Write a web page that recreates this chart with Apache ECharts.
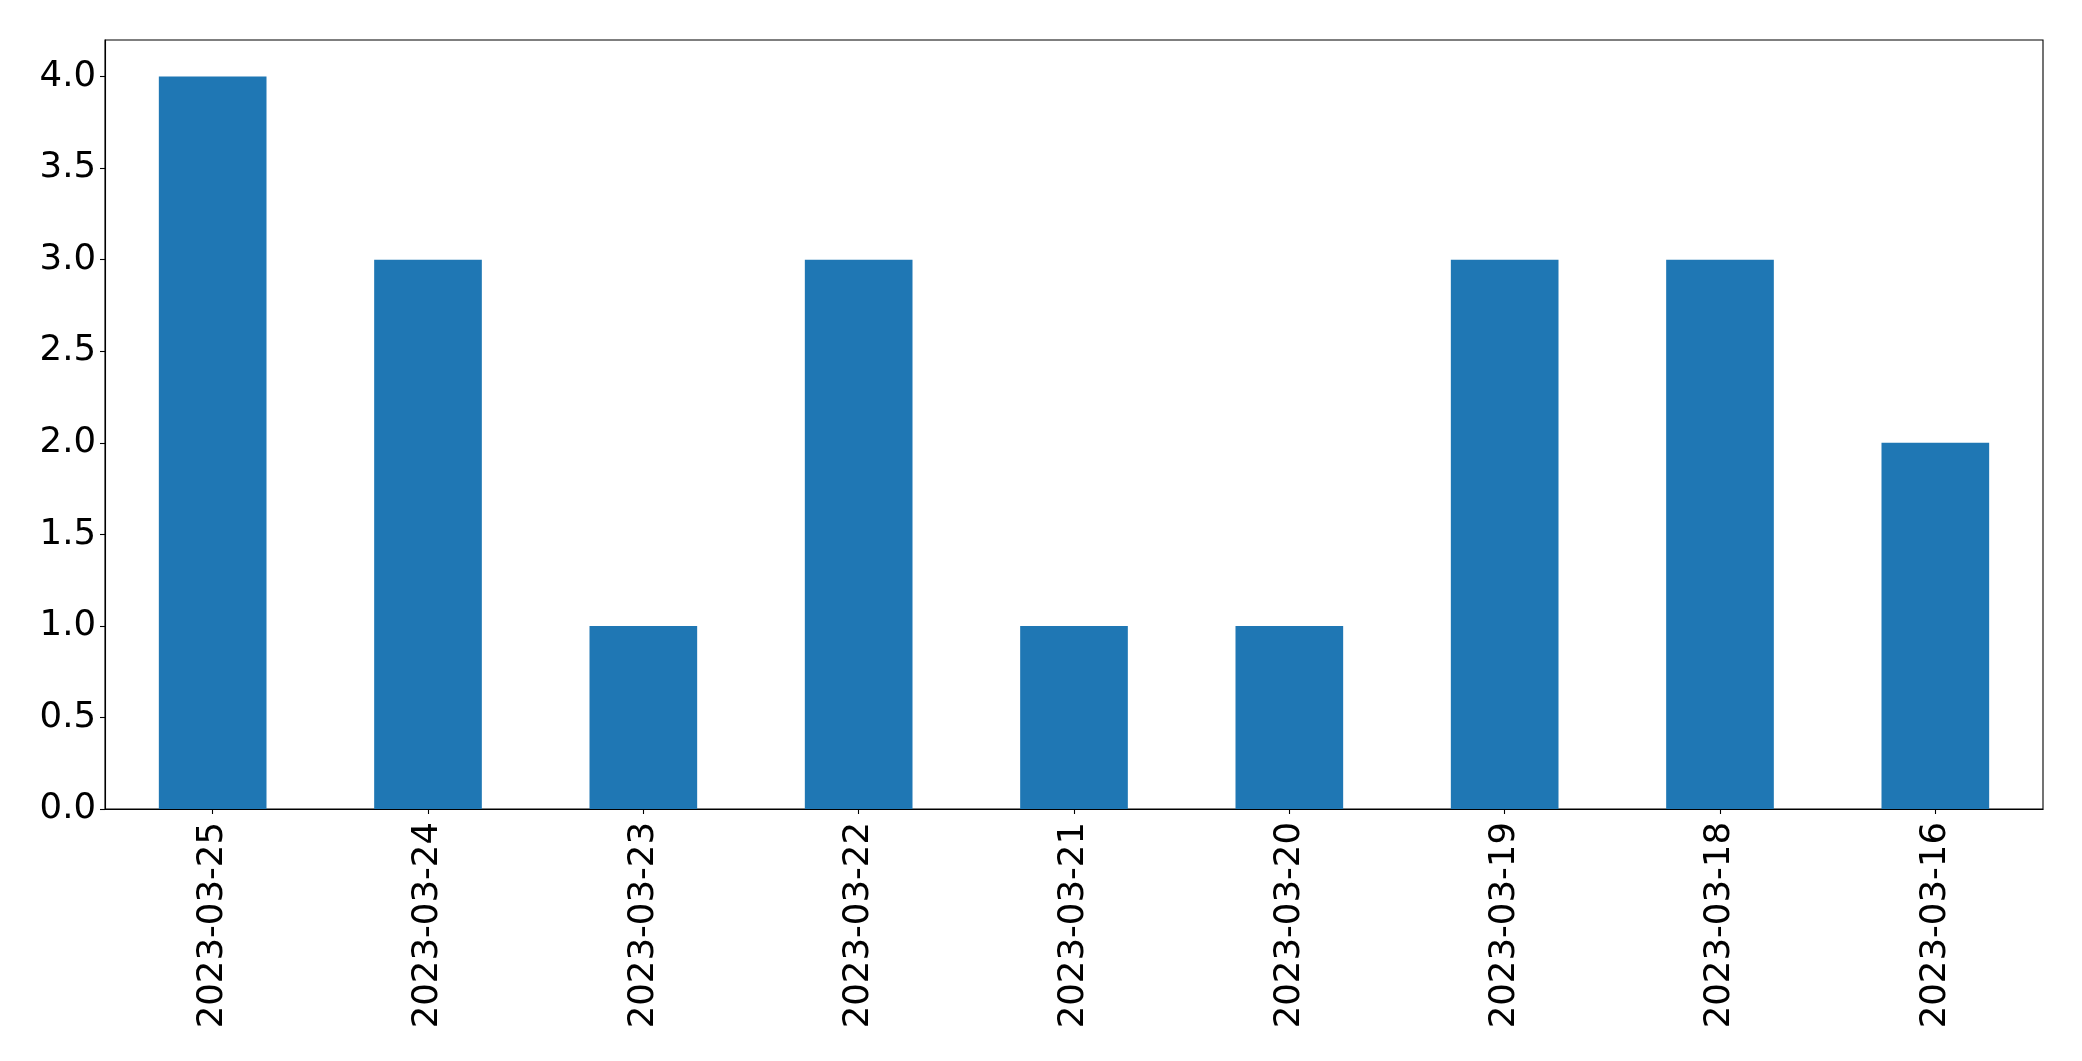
<!DOCTYPE html>
<html>
<head>
<meta charset="utf-8">
<script src="https://cdn.jsdelivr.net/npm/echarts@6/dist/echarts.min.js"></script>
<style>html,body{margin:0;padding:0;background:#fff;}#c{width:2082px;height:1061px;}</style>
</head>
<body>
<div id="c"></div>
<script>
const categories = ['2023-03-25','2023-03-24','2023-03-23','2023-03-22','2023-03-21','2023-03-20','2023-03-19','2023-03-18','2023-03-16'];
const values = [4, 3, 1, 3, 1, 1, 3, 3, 2];
const yMin = 0, yMax = 4.2, yInterval = 0.5;

const chart = echarts.init(document.getElementById('c'), null, {renderer: 'canvas'});
const font = 'DejaVu Sans';
chart.setOption({
  animation: false,
  backgroundColor: '#ffffff',
  grid: {left: 105, right: 39, top: 40, bottom: 252, show: true, borderColor: '#000', borderWidth: 1.1, backgroundColor: 'transparent', containLabel: false},
  xAxis: {
    type: 'category',
    data: categories,
    boundaryGap: true,
    axisLine: {show: true, lineStyle: {color: '#000', width: 1.1}},
    axisTick: {show: true, alignWithLabel: true, length: 5, lineStyle: {color: '#000', width: 1.1}},
    axisLabel: {rotate: 90, margin: 13, fontSize: 35.5, fontFamily: font, color: '#000', interval: 0},
    splitLine: {show: false}
  },
  yAxis: {
    type: 'value',
    min: yMin, max: yMax, interval: yInterval,
    axisLine: {show: true, lineStyle: {color: '#000', width: 1.1}},
    axisTick: {show: true, length: 5, lineStyle: {color: '#000', width: 1.1}},
    axisLabel: {margin: 9, fontSize: 35.5, fontFamily: font, color: '#000', showMaxLabel: false,
      formatter: v => (v > 4.01 ? '' : v.toFixed(1))},
    splitLine: {show: false}
  },
  series: [{
    type: 'bar',
    data: values,
    barWidth: '50%',
    itemStyle: {color: '#1f77b4'}
  }]
});
</script>
</body>
</html>
